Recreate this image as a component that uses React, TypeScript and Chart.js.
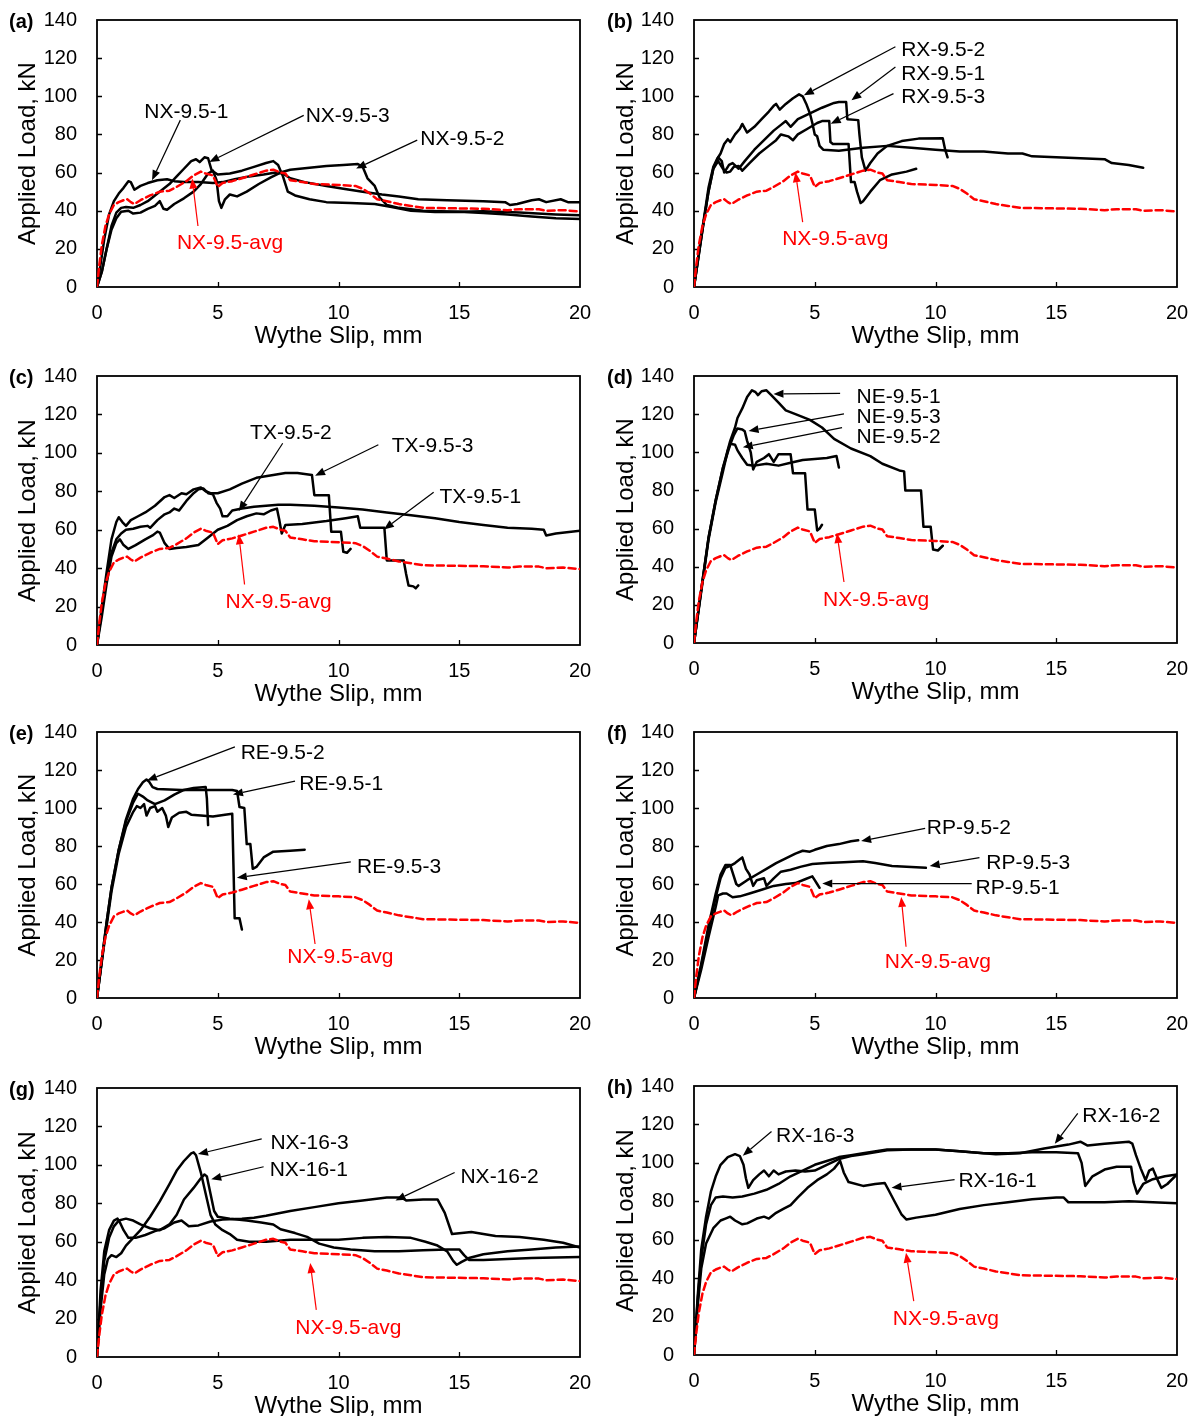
import React, { useEffect, useRef } from "react";
import { Chart, registerables } from "chart.js";
Chart.register(...registerables);

type P = [number, number];
const FONT = "'Liberation Sans', Arial, sans-serif";

// ---------- axes ----------
const X_MIN = 0, X_MAX = 20, X_STEP = 5;
const Y_MIN = 0, Y_MAX = 140, Y_STEP = 20;
const X_TITLE = "Wythe Slip, mm";
const Y_TITLE = "Applied Load, kN";

// ---------- reference average curve (dashed red) ----------
const NX_95_AVG: P[] = [[0,0],[0.1,12],[0.2,22],[0.35,32],[0.5,38],[0.7,43],[0.9,44.5],[1.1,45.5],[1.25,46],[1.4,44.5],[1.55,43.5],[1.8,45.5],[2.2,48],[2.6,50],[3,50.5],[3.3,52.5],[3.7,55.5],[4,58.5],[4.3,60.5],[4.5,59.5],[4.8,58.5],[5,52.5],[5.2,54.5],[5.6,55.5],[6,57],[6.5,59],[7,61],[7.3,61.5],[7.6,60],[7.8,59.5],[8,56],[8.5,55],[9,54],[10,53.5],[10.7,53],[11,51.5],[11.3,49],[11.6,46],[12,45],[12.5,43.5],[13,42.5],[13.5,41.5],[14.5,41.3],[16,41],[17,40.3],[17.5,40.8],[18.3,40.8],[18.6,40],[19.3,40.3],[20,39.5]];

// ---------- (a) ----------
const NX_95_1: P[] = [[0,0],[0.15,12],[0.3,25],[0.5,38],[0.7,45],[0.9,49],[1.1,52],[1.3,55.5],[1.4,55],[1.55,51],[1.8,53],[2.1,54.5],[2.5,56],[2.9,56.5],[3.2,55.5],[3.6,55],[4.2,55],[4.8,54.5],[5.2,55],[5.7,56.5],[6.3,58],[6.9,59],[7.4,60],[7.7,59.5],[8.0,57],[8.6,55],[9.5,53],[10.2,51.5],[11,50],[11.8,48.5],[12.5,47.5],[13.3,46],[14.5,45.5],[16,45],[16.9,44.5],[17.1,43],[17.4,43.5],[18,45.5],[18.3,46],[18.6,44.5],[19.2,46],[19.5,44.5],[20,44.5]];
const NX_95_2: P[] = [[0,0],[0.2,8],[0.4,20],[0.6,30],[0.8,36],[1.0,39.5],[1.3,40],[1.5,38.5],[1.8,39],[2.1,41],[2.4,42.5],[2.6,45],[2.75,41],[2.9,40.5],[3.2,43.5],[3.6,46.5],[4.0,50],[4.3,54],[4.6,59.5],[4.8,61],[4.95,56],[5.05,45],[5.15,41.5],[5.3,46],[5.5,48.5],[5.8,47.5],[6.2,50],[6.7,54],[7.2,57.5],[7.6,60],[8.0,61.5],[8.8,62.5],[9.5,63.5],[10.2,64],[10.8,64.5],[11.0,63],[11.2,57],[11.5,53],[11.7,47],[12.0,43],[12.5,41.5],[13.5,40],[15,39.5],[16,39.7],[17.5,39],[19,38],[20,37.6]];
const NX_95_3: P[] = [[0,0],[0.2,8],[0.4,20],[0.6,32],[0.8,39],[1.0,41.5],[1.2,42],[1.5,41.5],[1.8,43],[2.1,45],[2.4,48],[2.7,51],[3.0,54],[3.3,58],[3.6,62],[3.9,66],[4.1,67],[4.25,65.5],[4.45,68],[4.6,67.5],[4.75,61],[5.0,59],[5.5,59.5],[6.0,61],[6.5,63],[7.0,65],[7.3,66],[7.5,64],[7.7,58],[7.9,50],[8.2,48],[8.8,46],[9.5,44.5],[10.5,44],[11.5,43.5],[12.2,42],[13,40],[14,39.3],[15,39.5],[16,38.8],[17,38],[18,37],[19,36],[20,35.7]];

// ---------- (b) ----------
const RX_95_1: P[] = [[0,0],[0.2,17],[0.4,34],[0.6,50],[0.8,62],[1.0,68],[1.15,66],[1.25,60],[1.45,64],[1.6,65],[1.85,62],[2.1,66],[2.5,72],[2.9,77],[3.3,82],[3.6,85],[3.8,87],[4.0,84],[4.3,88],[4.8,91],[5.3,94],[5.8,96.5],[6.0,97],[6.3,97],[6.35,88],[6.8,87.5],[6.85,80],[6.95,68],[7.1,61],[7.3,65],[7.6,70],[8.0,74],[8.6,76.5],[9.3,77.8],[10.3,78],[10.4,72],[10.5,68]];
const RX_95_2: P[] = [[0,0],[0.2,18],[0.4,35],[0.6,52],[0.8,63],[0.95,67],[1.1,70],[1.25,75],[1.4,77.5],[1.5,76],[1.7,80],[1.9,83],[2.0,85.5],[2.2,81],[2.5,84],[2.8,88],[3.1,92],[3.3,95],[3.4,96],[3.55,93],[3.8,96],[4.1,99],[4.35,101],[4.5,100],[4.65,96],[4.8,91],[4.9,86],[5.0,80],[5.1,79],[5.2,74],[5.35,72],[6,71.5],[7,73],[8,74],[9,73],[10,72],[11,71],[12,71],[13,70],[13.6,70],[14,68.5],[15,68],[16,67.5],[17,67],[17.3,65],[18,64],[18.6,62.5]];
const RX_95_3: P[] = [[0,0],[0.2,17],[0.4,34],[0.6,50],[0.8,62],[1.0,66],[1.2,62],[1.35,60],[1.5,60.5],[1.65,63],[1.85,63.5],[2.0,61],[2.3,65],[2.7,70],[3.1,74],[3.4,77],[3.6,80],[3.9,79],[4.1,77],[4.3,80],[4.7,83],[5.1,86],[5.3,87],[5.6,87],[5.65,76],[5.75,75],[6.4,75],[6.45,65],[6.5,55],[6.65,55],[6.75,50],[6.9,44],[7.0,45],[7.3,50],[7.7,56],[8.2,59],[8.8,60.5],[9.2,62]];

// ---------- (c) ----------
const TX_95_1: P[] = [[0,0],[0.2,15],[0.4,32],[0.6,46],[0.8,53],[0.95,55],[1.1,52],[1.3,50],[1.6,52],[2.0,55],[2.3,57],[2.5,59],[2.6,58.5],[2.8,53],[3.0,50],[3.3,50.5],[3.7,51],[4.2,52],[4.6,56],[5.0,60],[5.4,62],[5.8,65],[6.2,67],[6.6,68.5],[6.9,68],[7.2,70],[7.45,71],[7.55,65],[7.65,58],[7.8,62.5],[8.5,63],[9.5,64.5],[10.3,66],[10.8,67],[10.9,61],[11.9,61],[12.0,44],[12.7,44],[12.8,37],[12.9,31],[13.1,30.5],[13.2,29.5],[13.3,31]];
const TX_95_2: P[] = [[0,0],[0.2,18],[0.4,35],[0.6,48],[0.8,55],[1.0,58],[1.2,60],[1.5,60.5],[1.8,61.5],[2.1,62],[2.2,61],[2.5,65],[2.8,68],[3.0,69],[3.2,71],[3.4,70],[3.7,75],[4.0,79],[4.2,81],[4.4,81.5],[4.6,79],[4.8,78.5],[4.95,74],[5.1,71],[5.2,67],[5.4,67],[5.6,70],[6.0,71],[6.5,72],[7,72.5],[7.5,73],[8,73],[9,72.5],[10,71.5],[11,70.5],[12,69],[13,67.5],[14,66],[15,64],[16,62.5],[17,61],[18,60.5],[18.5,60],[18.6,57],[19,58],[20,59.5]];
const TX_95_3: P[] = [[0,0],[0.2,20],[0.4,38],[0.6,55],[0.8,64],[0.9,66.5],[1.05,64],[1.2,62],[1.4,65],[1.7,67],[2.0,69],[2.4,72.5],[2.8,77],[3.0,78],[3.2,76.5],[3.5,79],[3.7,78.5],[4.0,81],[4.3,82],[4.5,80],[4.7,79],[5.0,79],[5.5,81],[6.0,84],[6.6,87],[7.3,88.5],[7.8,89.5],[8.3,89.5],[8.9,88.5],[9.0,78],[9.6,78],[9.7,59],[10.1,59],[10.2,48.5],[10.35,48],[10.5,50]];

// ---------- (d) ----------
const NE_95_1: P[] = [[0,0],[0.3,28],[0.6,55],[0.9,75],[1.2,92],[1.5,106],[1.7,113],[1.8,118],[2.0,123],[2.2,129],[2.4,132.5],[2.55,131.5],[2.65,130],[2.8,132],[3.0,132.5],[3.2,130],[3.5,126],[3.8,122],[4.2,120],[4.8,117],[5.3,113],[5.8,107],[6.5,102],[7.3,98],[7.8,94],[8.5,90.5],[8.7,90],[8.75,80],[9.4,80],[9.5,61],[9.8,61],[9.9,49],[10.1,48.5],[10.3,51]];
const NE_95_2: P[] = [[0,0],[0.3,27],[0.6,54],[0.9,74],[1.2,90],[1.4,101],[1.5,104.5],[1.7,104],[1.8,101],[2.0,97],[2.2,93.5],[2.5,93],[3.0,94],[3.5,93],[4.0,94.5],[4.5,96],[5.0,96.5],[5.5,97],[5.9,98],[6.0,92]];
const NE_95_3: P[] = [[0,0],[0.3,28],[0.6,55],[0.9,75],[1.2,92],[1.5,104],[1.65,109],[1.8,112.5],[2.0,112],[2.1,111],[2.2,106],[2.35,100],[2.45,91],[2.6,95],[2.9,97],[3.1,99],[3.3,95],[3.5,99],[4.0,99],[4.1,89],[4.6,89],[4.7,70],[5.0,70],[5.1,59],[5.2,60],[5.3,62]];

// ---------- (e) ----------
const RE_95_1: P[] = [[0,0],[0.2,20],[0.4,40],[0.6,58],[0.9,78],[1.2,93],[1.5,103],[1.7,107.5],[1.9,106],[2.1,104],[2.4,102],[2.8,104],[3.2,107],[3.6,109.5],[4.0,110.5],[4.5,111],[4.55,105],[4.6,91]];
const RE_95_2: P[] = [[0,0],[0.2,20],[0.4,40],[0.6,58],[0.9,78],[1.2,94],[1.5,105],[1.7,110],[1.9,113.5],[2.05,115],[2.15,114],[2.3,111],[2.5,110],[3.5,109.5],[4.5,109.5],[5.6,109.5],[5.8,109],[5.9,100.5],[6.1,100],[6.2,81],[6.35,81],[6.45,68],[6.6,69],[6.9,74],[7.3,77],[8.0,77.5],[8.6,78]];
const RE_95_3: P[] = [[0,0],[0.2,19],[0.4,38],[0.6,56],[0.9,76],[1.2,90],[1.5,98],[1.65,101],[1.8,100],[1.95,102],[2.05,96],[2.2,100],[2.4,101],[2.5,98],[2.7,100],[2.85,96],[2.95,90],[3.1,95],[3.4,97.5],[3.7,98],[3.9,96.5],[4.3,96],[4.8,95.5],[5.3,96.5],[5.6,97],[5.65,70],[5.7,42],[5.9,42],[6.0,36]];

// ---------- (f) ----------
const RP_95_1: P[] = [[0,0],[0.3,15],[0.6,32],[0.9,48],[1.0,54],[1.2,55],[1.35,55],[1.6,53],[1.9,53.5],[2.3,55],[2.8,57],[3.3,59],[3.8,60],[4.2,60.5],[4.6,62.5],[4.9,64],[5.0,62],[5.1,60],[5.2,58]];
const RP_95_2: P[] = [[0,0],[0.3,18],[0.6,38],[0.9,55],[1.1,65],[1.3,70],[1.5,70],[1.6,66],[1.75,60],[1.85,59],[2.2,62],[2.6,65],[3.0,68],[3.4,71],[3.8,73.5],[4.2,76],[4.5,77.5],[4.8,77],[5.0,78],[5.5,80],[6.0,81],[6.5,82.5],[6.8,83]];
const RP_95_3: P[] = [[0,0],[0.3,17],[0.6,36],[0.9,53],[1.1,63],[1.3,68.5],[1.5,69.5],[1.7,71],[1.9,73],[2.0,74],[2.15,68],[2.3,65],[2.45,59],[2.6,62],[2.9,63],[3.0,59],[3.3,63],[3.6,66.5],[4.0,67.5],[4.4,69],[4.9,70.5],[5.5,71],[6.2,71.5],[7.0,72],[7.5,71],[8.2,69.5],[9.0,69],[9.6,68.5]];

// ---------- (g) ----------
const NX_16_1: P[] = [[0,0],[0.15,30],[0.3,50],[0.5,62],[0.7,68],[0.9,71],[1.2,72],[1.5,71],[1.8,69],[2.2,67],[2.6,66],[3.0,69],[3.3,74],[3.6,82],[4.0,88],[4.3,93],[4.45,95],[4.55,94],[4.7,85],[4.85,76],[5.0,73],[5.5,72],[6.2,71],[6.8,70],[7.3,69],[7.6,66.5],[8.2,64.5],[8.7,62.5],[9.2,59],[9.8,57],[10.5,56],[11.5,55],[12.5,55],[13.5,55.5],[14.5,56],[15.0,56],[15.2,53],[15.4,50.5],[16,50.5],[17,51],[18,51.5],[20,52]];
const NX_16_2: P[] = [[0,0],[0.15,35],[0.3,55],[0.5,66],[0.7,71],[0.85,72],[0.95,70],[1.1,66],[1.3,62],[1.6,62],[2.0,63.5],[2.4,65.5],[2.8,67],[3.2,70],[3.5,71],[3.8,68],[4.2,68.5],[4.7,70.5],[5.2,71.5],[6,72],[6.5,72.5],[7,73.5],[8,76],[9,78],[10,80],[11,81.5],[12,83],[12.6,83],[12.8,81.5],[13.5,82],[14.1,82],[14.4,75],[14.7,64],[15.5,65],[16.5,63],[17.5,62.5],[18.5,61],[19.3,59.5],[20,57]];
const NX_16_3: P[] = [[0,0],[0.15,25],[0.3,43],[0.45,51],[0.6,53],[0.8,52],[1.0,54],[1.2,58],[1.5,62],[1.8,66],[2.2,73],[2.6,81],[3.0,90],[3.3,97],[3.6,102],[3.9,106],[4.0,106.5],[4.1,105],[4.3,96],[4.5,85],[4.7,74],[4.9,69],[5.2,66],[5.5,64],[5.8,61],[6.3,60],[7.0,60],[8,61],[9,61],[10,61],[11,62],[12,62.5],[13,62],[13.6,60],[14.1,58],[14.5,55],[14.75,50],[14.9,48],[15.1,49.5],[15.4,51.5],[16,53.5],[17,55],[18,56],[19,57],[20,57.5]];

// ---------- (h) ----------
const RX_16_1: P[] = [[0,0],[0.15,25],[0.3,45],[0.5,58],[0.8,66],[1.1,70],[1.3,71],[1.5,72],[1.7,70],[2.0,68],[2.2,68.5],[2.6,71],[2.9,72],[3.1,71],[3.4,74],[3.7,76],[4.0,78],[4.3,82],[4.7,87],[5.1,91],[5.5,94],[5.8,97],[6.05,101],[6.2,95],[6.4,90],[7.0,88],[7.5,89],[7.9,89.5],[8.05,86],[8.3,80],[8.6,73],[8.8,70.5],[9.2,71.5],[10,73],[11,76],[12,78],[13,79.5],[14,81],[15,82],[15.3,82],[15.5,79.5],[17,79.5],[18,80],[20,79]];
const RX_16_2: P[] = [[0,0],[0.15,28],[0.3,50],[0.5,68],[0.7,78],[0.9,82],[1.2,82.5],[1.6,82],[2.0,82.5],[2.5,84],[3.0,86],[3.5,89],[4.0,93],[4.5,96],[5.0,99],[5.5,101],[6.0,103],[6.5,104],[7.0,105],[8.0,107],[9.0,107],[10.0,107],[11,106],[12,105],[12.5,104.5],[13.5,105],[14.5,107.5],[15.5,109.5],[16.0,111],[16.3,109],[17,110],[18,111],[18.15,110],[18.3,104],[18.5,97],[18.7,91],[18.85,96],[19.0,97],[19.2,91],[19.35,87],[19.6,89],[20,94]];
const RX_16_3: P[] = [[0,0],[0.15,30],[0.3,55],[0.5,72],[0.7,85],[0.9,93],[1.1,99],[1.4,103],[1.7,104.5],[1.9,103.5],[2.05,99],[2.15,92],[2.25,87],[2.45,91],[2.7,94],[2.9,96],[3.1,93],[3.3,96],[3.5,94],[3.8,95.5],[4.2,96],[4.6,95.5],[5.0,96],[5.5,99],[6.0,102],[6.5,103.5],[7,104.5],[8,106.5],[9,107],[10,107],[11,106],[12,105],[13,105],[14,105.5],[15,105.5],[15.9,105],[16.05,100],[16.2,88],[16.5,93],[17,96.5],[17.5,98],[18.1,98],[18.2,90],[18.35,84],[18.6,89],[19.0,91.5],[19.5,93],[20,94]];

// ---------- annotations: label + arrow, in data units ----------
type Note = { t: string; tx: number; ty: number; sx: number; sy: number; ex: number; ey: number; red?: boolean };
const AVG_LABEL = "NX-9.5-avg";

type PanelCfg = { tag: string; col: number; top: number; bottom: number; series: P[][]; notes: Note[] };

const PANELS: PanelCfg[] = [
  { tag: "(a)", col: 0, top: 20, bottom: 287, series: [NX_95_1, NX_95_2, NX_95_3], notes: [
    { t: "NX-9.5-1", tx: 1.96, ty: 91.9, sx: 3.45, sy: 87.5, ex: 2.28, ey: 56 },
    { t: "NX-9.5-3", tx: 8.64, ty: 89.6, sx: 8.56, sy: 90, ex: 4.65, ey: 65.6 },
    { t: "NX-9.5-2", tx: 13.39, ty: 77.4, sx: 13.26, sy: 77, ex: 10.73, ey: 62.1 },
    { t: AVG_LABEL, tx: 3.31, ty: 23.1, sx: 4.18, sy: 32, ex: 3.94, ey: 56.9, red: true },
  ] },
  { tag: "(b)", col: 1, top: 20, bottom: 287, series: [RX_95_1, RX_95_2, RX_95_3], notes: [
    { t: "RX-9.5-2", tx: 8.58, ty: 124.2, sx: 8.34, sy: 126, ex: 4.55, ey: 100.5 },
    { t: "RX-9.5-1", tx: 8.58, ty: 111.6, sx: 8.34, sy: 115.4, ex: 6.52, ey: 97.9 },
    { t: "RX-9.5-3", tx: 8.58, ty: 99.3, sx: 8.26, sy: 101.4, ex: 5.66, ey: 85.6 },
    { t: AVG_LABEL, tx: 3.65, ty: 25.1, sx: 4.5, sy: 34, ex: 4.2, ey: 60.2, red: true },
  ] },
  { tag: "(c)", col: 0, top: 376, bottom: 645, series: [TX_95_1, TX_95_2, TX_95_3], notes: [
    { t: "TX-9.5-2", tx: 6.34, ty: 110.3, sx: 7.69, sy: 105, ex: 5.87, ey: 69.7 },
    { t: "TX-9.5-3", tx: 12.2, ty: 103.7, sx: 11.65, sy: 104.2, ex: 9.03, ey: 88.1 },
    { t: "TX-9.5-1", tx: 14.18, ty: 77.1, sx: 13.94, sy: 79.5, ex: 11.88, ey: 60.1 },
    { t: AVG_LABEL, tx: 5.32, ty: 22.1, sx: 6.11, sy: 31.5, ex: 5.87, ey: 57.6, red: true },
  ] },
  { tag: "(d)", col: 1, top: 376, bottom: 643, series: [NE_95_1, NE_95_2, NE_95_3], notes: [
    { t: "NE-9.5-1", tx: 6.73, ty: 128.8, sx: 6.05, sy: 130.9, ex: 3.29, ey: 130.6 },
    { t: "NE-9.5-3", tx: 6.73, ty: 118.3, sx: 6.21, sy: 120.1, ex: 2.26, ey: 111.2 },
    { t: "NE-9.5-2", tx: 6.73, ty: 107.9, sx: 6.13, sy: 112.9, ex: 2.02, ey: 102.6 },
    { t: AVG_LABEL, tx: 5.34, ty: 22.7, sx: 6.21, sy: 32, ex: 5.92, ey: 57.6, red: true },
  ] },
  { tag: "(e)", col: 0, top: 732, bottom: 998, series: [RE_95_1, RE_95_2, RE_95_3], notes: [
    { t: "RE-9.5-2", tx: 5.95, ty: 129, sx: 5.71, sy: 132.2, ex: 2.07, ey: 114.5 },
    { t: "RE-9.5-1", tx: 8.37, ty: 112.7, sx: 8.2, sy: 114.1, ex: 5.63, ey: 107.1 },
    { t: "RE-9.5-3", tx: 10.77, ty: 68.6, sx: 10.51, sy: 71.6, ex: 5.79, ey: 63.3 },
    { t: AVG_LABEL, tx: 7.88, ty: 21.7, sx: 9.03, sy: 28.4, ex: 8.77, ey: 52, red: true },
  ] },
  { tag: "(f)", col: 1, top: 732, bottom: 998, series: [RP_95_1, RP_95_2, RP_95_3], notes: [
    { t: "RP-9.5-2", tx: 9.64, ty: 89.3, sx: 9.57, sy: 89.3, ex: 6.92, ey: 82.6 },
    { t: "RP-9.5-3", tx: 12.1, ty: 70.9, sx: 11.82, sy: 73.9, ex: 9.76, ey: 69.5 },
    { t: "RP-9.5-1", tx: 11.66, ty: 57.8, sx: 11.5, sy: 60.2, ex: 5.31, ey: 60.2 },
    { t: AVG_LABEL, tx: 7.9, ty: 18.6, sx: 8.78, sy: 27, ex: 8.58, ey: 53.2, red: true },
  ] },
  { tag: "(g)", col: 0, top: 1088, bottom: 1357, series: [NX_16_1, NX_16_2, NX_16_3], notes: [
    { t: "NX-16-3", tx: 7.18, ty: 111.4, sx: 6.82, sy: 113.5, ex: 4.18, ey: 105.6 },
    { t: "NX-16-1", tx: 7.15, ty: 97.2, sx: 6.9, sy: 99, ex: 4.73, ey: 92.5 },
    { t: "NX-16-2", tx: 15.05, ty: 93.4, sx: 14.81, sy: 96, ex: 12.36, ey: 81.5 },
    { t: AVG_LABEL, tx: 8.21, ty: 15.2, sx: 9.08, sy: 24.5, ex: 8.83, ey: 48.9, red: true },
  ] },
  { tag: "(h)", col: 1, top: 1086, bottom: 1355, series: [RX_16_1, RX_16_2, RX_16_3], notes: [
    { t: "RX-16-3", tx: 3.4, ty: 113.7, sx: 3.21, sy: 116.3, ex: 2.02, ey: 103.7 },
    { t: "RX-16-2", tx: 16.08, ty: 124.1, sx: 15.89, sy: 125.8, ex: 14.94, ey: 109.9 },
    { t: "RX-16-1", tx: 10.95, ty: 90.7, sx: 10.79, sy: 91.3, ex: 8.18, ey: 87 },
    { t: AVG_LABEL, tx: 8.23, ty: 18.7, sx: 9.1, sy: 28, ex: 8.78, ey: 53.2, red: true },
  ] },
];

// ---------- layout ----------
const COL_W = 598;
const PLOT_L = [97, 694];
const PLOT_R = [580, 1177];
const RED = "#ff0000";

function makePlugin(cfg: PanelCfg) {
  return {
    id: "decor",
    beforeDatasetsDraw(chart: any) {
      const { ctx, chartArea: a, scales } = chart;
      ctx.save();
      ctx.strokeStyle = "#000";
      ctx.lineWidth = 1.8;
      ctx.strokeRect(a.left, a.top, a.right - a.left, a.bottom - a.top);
      ctx.lineWidth = 1.3;
      ctx.beginPath();
      for (let v = Y_MIN + Y_STEP; v < Y_MAX; v += Y_STEP) {
        const y = Math.round(scales.y.getPixelForValue(v)) + 0.5;
        ctx.moveTo(a.left, y); ctx.lineTo(a.left + 5, y);
      }
      for (let v = X_MIN + X_STEP; v < X_MAX; v += X_STEP) {
        const x = Math.round(scales.x.getPixelForValue(v)) + 0.5;
        ctx.moveTo(x, a.bottom); ctx.lineTo(x, a.bottom - 5);
      }
      ctx.stroke();
      ctx.restore();
    },
    afterDatasetsDraw(chart: any) {
      const { ctx, chartArea: a, scales } = chart;
      const px = (v: number) => scales.x.getPixelForValue(v);
      const py = (v: number) => scales.y.getPixelForValue(v);
      ctx.save();
      for (const n of cfg.notes) {
        const col = n.red ? RED : "#000";
        const x1 = px(n.sx), y1 = py(n.sy), x2 = px(n.ex), y2 = py(n.ey);
        const ang = Math.atan2(y2 - y1, x2 - x1);
        const hl = 10, hw = 4;
        const bx = x2 - hl * Math.cos(ang), by = y2 - hl * Math.sin(ang);
        ctx.strokeStyle = col; ctx.fillStyle = col; ctx.lineWidth = 1.2;
        ctx.beginPath(); ctx.moveTo(x1, y1); ctx.lineTo(bx, by); ctx.stroke();
        ctx.beginPath();
        ctx.moveTo(x2, y2);
        ctx.lineTo(bx + hw * Math.sin(ang), by - hw * Math.cos(ang));
        ctx.lineTo(bx - hw * Math.sin(ang), by + hw * Math.cos(ang));
        ctx.closePath(); ctx.fill();
        ctx.font = `21px ${FONT}`;
        ctx.textAlign = "left"; ctx.textBaseline = "middle";
        ctx.fillText(n.t, px(n.tx), py(n.ty));
      }
      ctx.fillStyle = "#000";
      ctx.font = `bold 20px ${FONT}`;
      ctx.textAlign = "left"; ctx.textBaseline = "middle";
      ctx.fillText(cfg.tag, 9, a.top + 2);
      ctx.restore();
    },
  };
}

function Panel({ cfg }: { cfg: PanelCfg }) {
  const ref = useRef<HTMLCanvasElement>(null);
  const left = cfg.col * COL_W;
  const canvasTop = cfg.top - 20;
  const height = cfg.bottom - canvasTop + 72;
  const yAxisW = PLOT_L[cfg.col] - left;
  const padRight = left + COL_W - PLOT_R[cfg.col];
  const xAxisH = height - (cfg.bottom - canvasTop);

  useEffect(() => {
    const datasets: any[] = [
      {
        data: NX_95_AVG.map(([x, y]) => ({ x, y })),
        borderColor: RED, borderWidth: 2.5, borderDash: [7, 4], pointRadius: 0, showLine: true, fill: false,
      },
      ...cfg.series.map((s) => ({
        data: s.map(([x, y]) => ({ x, y })),
        borderColor: "#000", borderWidth: 2.5, pointRadius: 0, showLine: true, fill: false,
      })),
    ];
    const chart = new Chart(ref.current!, {
      type: "scatter",
      data: { datasets },
      plugins: [makePlugin(cfg)],
      options: {
        animation: false,
        responsive: false,
        devicePixelRatio: 1,
        events: [],
        layout: { padding: { top: 20, right: padRight, left: 0, bottom: 0 } },
        plugins: { legend: { display: false }, tooltip: { enabled: false } },
        elements: { line: { tension: 0, borderJoinStyle: "round", borderCapStyle: "round" } },
        scales: {
          x: {
            type: "linear", min: X_MIN, max: X_MAX,
            grid: { display: false, drawTicks: false }, border: { display: false },
            ticks: { stepSize: X_STEP, padding: 14, color: "#000", font: { family: FONT, size: 20 } },
            title: { display: true, text: X_TITLE, color: "#000", font: { family: FONT, size: 24 }, padding: { top: 0, bottom: 8 } },
            afterFit: (s: any) => { s.height = xAxisH; s.paddingLeft = 0; s.paddingRight = 0; },
          },
          y: {
            type: "linear", min: Y_MIN, max: Y_MAX,
            grid: { display: false, drawTicks: false }, border: { display: false },
            ticks: { stepSize: Y_STEP, padding: 20, color: "#000", font: { family: FONT, size: 20 } },
            title: { display: true, text: Y_TITLE, color: "#000", font: { family: FONT, size: 24 }, padding: { top: 14, bottom: 0 } },
            afterFit: (s: any) => { s.width = yAxisW; s.paddingTop = 0; s.paddingBottom = 0; },
          },
        },
      } as any,
    });
    return () => chart.destroy();
  }, []);

  return (
    <canvas
      ref={ref}
      width={COL_W}
      height={height}
      style={{ position: "absolute", left, top: canvasTop, width: COL_W, height }}
    />
  );
}

export default function App() {
  return (
    <div style={{ position: "absolute", left: 0, top: 0, width: 1196, height: 1416, overflow: "hidden", background: "#fff" }}>
      {PANELS.map((p) => (
        <Panel key={p.tag} cfg={p} />
      ))}
    </div>
  );
}
